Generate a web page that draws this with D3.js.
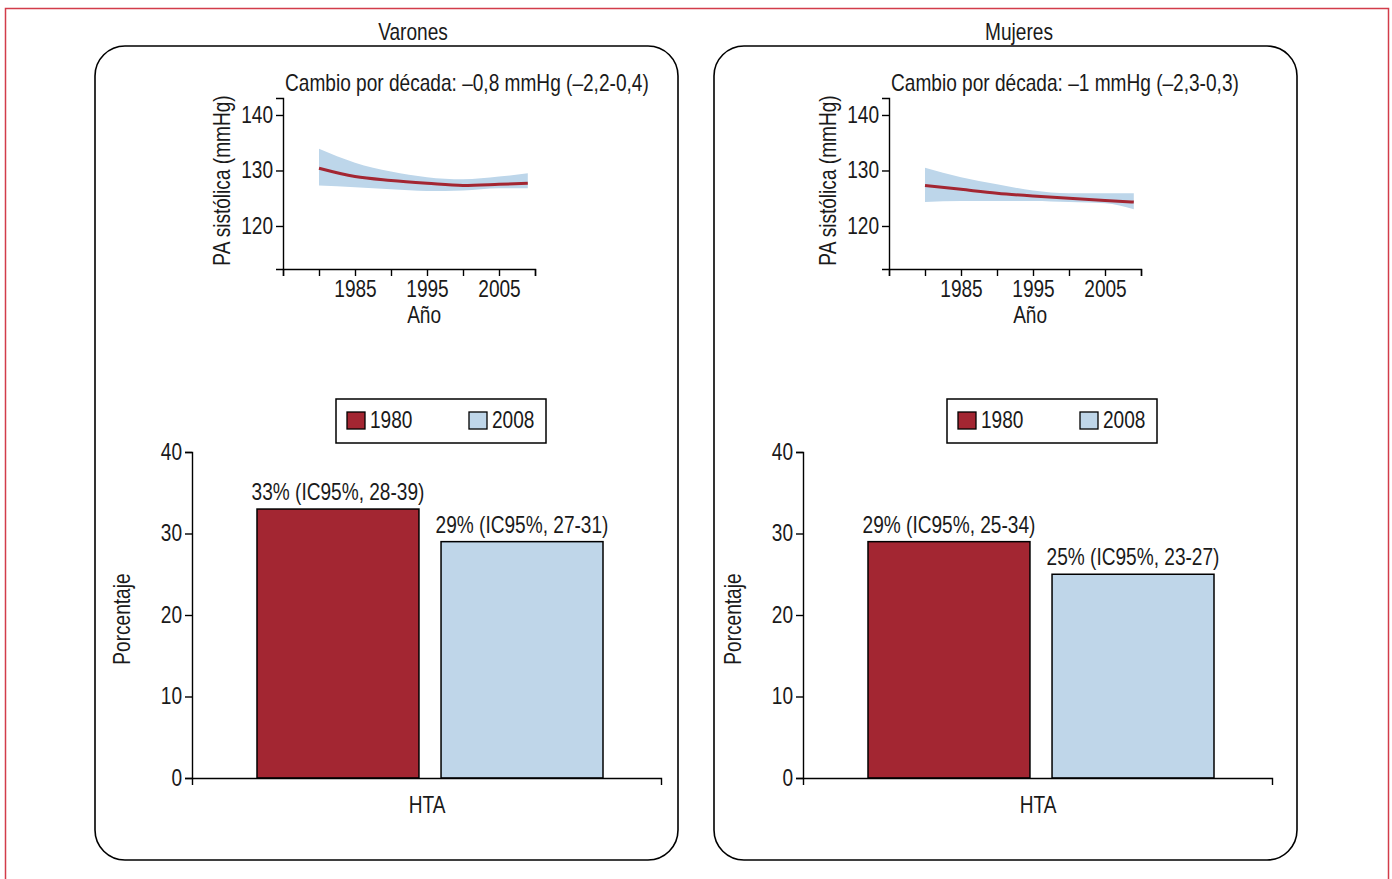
<!DOCTYPE html>
<meta charset="utf-8">
<title>PA sistólica e HTA</title>
<style>

body {
  margin: 0;
  background-color: white;
}

text {
  font-family: "Liberation Sans", Arial, sans-serif;
  font-size: 23px;
  fill: #1a1a1a;
}

.axis path, .axis line {
  stroke: black;
  stroke-width: 1.4px;
}

</style>
<body>
<script src="https://cdn.jsdelivr.net/npm/d3@7"></script>
<script>

// --- datos ---
var panelTitles = ["Varones", "Mujeres"];
var cambioLabels = ["Cambio por década: –0,8 mmHg (–2,2-0,4)", "Cambio por década: –1 mmHg (–2,3-0,3)"];

var years = [1980, 1985, 1990, 1995, 2000, 2005, 2009];
var varonesPA = [130.4, 128.9, 128.2, 127.7, 127.3, 127.5, 127.7];
var varonesHi = [133.9, 131.4, 129.8, 128.8, 128.4, 128.9, 129.5];
var varonesLo = [127.3, 127.0, 126.6, 126.3, 126.4, 126.8, 126.8];
var mujeresPA = [127.3, 126.6, 125.9, 125.4, 125.0, 124.6, 124.3];
var mujeresHi = [130.5, 128.8, 127.5, 126.4, 125.9, 125.9, 125.9];
var mujeresLo = [124.3, 124.5, 124.5, 124.5, 124.3, 124.1, 123.0];

var yearTicks = [1975, 1980, 1985, 1990, 1995, 2000, 2005, 2010];
var yearLabels = [1985, 1995, 2005];
var paTicks = [120, 130, 140];

var series = ["1980", "2008"];
var varonesHTA = [33, 29];
var mujeresHTA = [29, 25];
var varonesHTALabels = ["33% (IC95%, 28-39)", "29% (IC95%, 27-31)"];
var mujeresHTALabels = ["29% (IC95%, 25-34)", "25% (IC95%, 23-27)"];
var pctTicks = [0, 10, 20, 30, 40];

var colors = ["#a32632", "#bfd6e9"];

// --- layout ---
var width = 1392,
    height = 879,
    narrow = 0.83;   // Liberation Sans comprimida ~ Helvetica Condensed

var panels = [
  {x: 95, title: 413, lineX: 283, barX: 192, pa: varonesPA, hi: varonesHi, lo: varonesLo, hta: varonesHTA, htaLabels: varonesHTALabels},
  {x: 714, title: 1019, lineX: 889, barX: 803, pa: mujeresPA, hi: mujeresHi, lo: mujeresLo, hta: mujeresHTA, htaLabels: mujeresHTALabels}
];

var svg = d3.select("body").append("svg")
    .attr("width", width)
    .attr("height", height);

function label(sel, x, y, str, anchor, rot) {
  return sel.append("text")
      .attr("transform", "translate(" + x + "," + y + ")" + (rot ? "rotate(" + rot + ")" : "") + "scale(" + narrow + ",1)")
      .attr("text-anchor", anchor || "start")
      .text(str);
}

// comprime los textos de los ejes
function squeeze(axisG) {
  axisG.selectAll("text").each(function() {
    var t = d3.select(this);
    t.attr("transform", "scale(" + narrow + ",1)")
     .attr("x", +t.attr("x") / narrow || null);
  });
  axisG.attr("font-family", null).attr("font-size", null);
}

svg.append("rect")
    .attr("x", 5.5)
    .attr("y", 8.5)
    .attr("width", 1383)
    .attr("height", 890)
    .attr("fill", "none")
    .attr("stroke", "#d23c4a")
    .attr("stroke-width", 1.5);

panels.forEach(function(p, i) {
  var g = svg.append("g");

  g.append("rect")
      .attr("x", p.x)
      .attr("y", 46)
      .attr("width", 583)
      .attr("height", 814)
      .attr("rx", 30)
      .attr("fill", "none")
      .attr("stroke", "black")
      .attr("stroke-width", 1.6);

  label(g, p.title, 40, panelTitles[i], "middle");

  // --- PA sistólica (línea) ---
  var x = d3.scaleLinear().domain([1975, 2010]).range([p.lineX, p.lineX + 252]);
  var y = d3.scaleLinear().domain([112.25, 143.06]).range([269, 98]);

  var rows = years.map(function(yr, j) { return {year: yr, pa: p.pa[j], hi: p.hi[j], lo: p.lo[j]}; });

  g.append("path")
      .datum(rows)
      .attr("fill", "#bdd6ea")
      .attr("d", d3.area()
          .curve(d3.curveMonotoneX)
          .x(function(d) { return x(d.year); })
          .y0(function(d) { return y(d.lo); })
          .y1(function(d) { return y(d.hi); }));

  g.append("path")
      .datum(rows)
      .attr("fill", "none")
      .attr("stroke", "#a32632")
      .attr("stroke-width", 3)
      .attr("d", d3.line()
          .curve(d3.curveMonotoneX)
          .x(function(d) { return x(d.year); })
          .y(function(d) { return y(d.pa); }));

  g.append("g")
      .attr("class", "axis")
      .attr("transform", "translate(" + p.lineX + ",0)")
      .call(d3.axisLeft(y).tickValues(paTicks).tickSizeOuter(0).tickSize(7).tickPadding(3))
      .call(squeeze);

  g.append("g")
      .attr("class", "axis")
      .attr("transform", "translate(0,269)")
      .call(d3.axisBottom(x).tickValues(yearTicks).tickSizeOuter(0).tickSize(7).tickPadding(5)
          .tickFormat(function(d) { return yearLabels.indexOf(d) >= 0 ? d : ""; }))
      .call(squeeze);

  label(g, x(1994.6), 323, "Año", "middle");
  label(g, p.lineX - 53, y(128.2), "PA sistólica (mmHg)", "middle", -90);
  label(g, p.lineX + 2, 91, cambioLabels[i]);

  // --- HTA (barras) ---
  var xb = d3.scaleBand().domain(series).range([p.barX + 65, p.barX + 411]).paddingInner(0.12);
  var yb = d3.scaleLinear().domain([0, 40]).range([778, 452]);

  g.selectAll(".bar")
      .data(p.hta)
    .enter().append("rect")
      .attr("x", function(d, j) { return xb(series[j]); })
      .attr("y", function(d) { return yb(d); })
      .attr("width", xb.bandwidth())
      .attr("height", function(d) { return yb(0) - yb(d); })
      .attr("fill", function(d, j) { return colors[j]; })
      .attr("stroke", "black")
      .attr("stroke-width", 1.5);

  p.hta.forEach(function(d, j) {
    label(g, xb(series[j]) + xb.bandwidth() / 2, yb(d) - 9, p.htaLabels[j], "middle");
  });

  g.append("g")
      .attr("class", "axis")
      .attr("transform", "translate(" + p.barX + ",0)")
      .call(d3.axisLeft(yb).tickValues(pctTicks).tickSize(7).tickPadding(3))
      .call(squeeze);

  g.append("g")
      .attr("class", "axis")
      .attr("transform", "translate(0,778)")
      .call(d3.axisBottom(d3.scaleLinear().range([p.barX, p.barX + 469])).tickValues([]).tickSizeOuter(7));

  label(g, p.barX + 235, 813, "HTA", "middle");
  label(g, p.barX - 62, yb(19.5), "Porcentaje", "middle", -90);

  // leyenda
  var lg = g.append("g").attr("transform", "translate(" + (p.barX + 144) + ",399)");
  lg.append("rect")
      .attr("width", 210)
      .attr("height", 44)
      .attr("fill", "white")
      .attr("stroke", "black")
      .attr("stroke-width", 1.5);

  series.forEach(function(s, j) {
    var it = lg.append("g").attr("transform", "translate(" + (11 + j * 122) + ",13)");
    it.append("rect")
        .attr("width", 18)
        .attr("height", 17)
        .attr("fill", colors[j])
        .attr("stroke", "black")
        .attr("stroke-width", 1.3);
    label(it, 23, 16, s);
  });
});

</script>
